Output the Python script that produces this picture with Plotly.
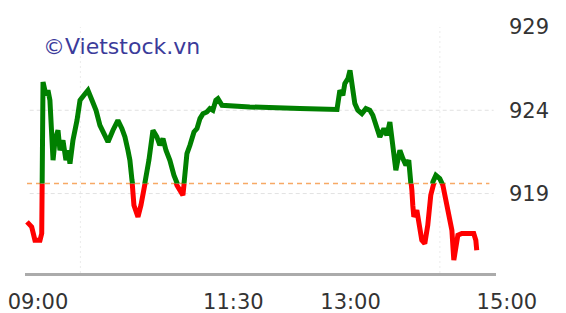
import plotly.graph_objects as go

DAY = "2024-01-02 "

times = [
    "09:00:00", "09:03:36", "09:06:06", "09:10:00", "09:11:18", "09:12:18", "09:14:36", "09:16:06",
    "09:17:36", "09:19:12", "09:20:00", "09:21:30", "09:23:48", "09:25:18", "09:27:36", "09:29:54",
    "09:31:30", "09:33:00", "09:35:18", "09:38:24", "09:40:42", "09:43:42", "09:46:48", "09:49:54",
    "09:53:00", "09:56:00", "09:59:54", "10:02:12", "10:06:00", "10:09:48", "10:12:54", "10:15:12",
    "10:17:30", "10:19:00", "10:20:36", "10:22:06", "10:25:12", "10:27:30", "10:30:36", "10:33:36",
    "10:36:42", "10:39:42", "10:42:00", "10:44:24", "10:46:42", "10:49:42", "10:52:48", "10:55:06",
    "10:57:24", "10:59:42", "11:01:18", "11:02:48", "11:05:06", "11:08:12", "11:10:30", "11:12:48",
    "11:15:06", "11:18:06", "11:20:24", "11:22:42", "11:25:00", "11:26:36", "11:29:42", "11:51:00",
    "12:29:30", "12:58:00", "13:00:12", "13:02:30", "13:04:00", "13:06:24", "13:08:00", "13:09:30",
    "13:11:00", "13:11:42", "13:14:00", "13:17:06", "13:20:12", "13:23:12", "13:25:30", "13:27:48",
    "13:30:54", "13:34:00", "13:36:18", "13:38:36", "13:40:54", "13:43:12", "13:44:42", "13:46:18",
    "13:48:36", "13:50:54", "13:53:06", "13:54:42", "13:55:30", "13:56:12", "13:57:00", "13:59:18",
    "14:01:36", "14:03:06", "14:05:24", "14:07:42", "14:10:00", "14:11:36", "14:13:54", "14:16:54",
    "14:19:18", "14:21:36", "14:23:54", "14:26:12", "14:27:42", "14:29:12", "14:30:48", "14:33:48",
    "14:38:24", "14:43:00", "14:44:36", "14:45:18",
]

index_values = [
    917.3, 917.0, 916.2, 916.2, 916.6, 925.7, 924.9, 925.2,
    924.6, 922.8, 921.0, 922.2, 922.8, 921.6, 922.2, 921.0,
    921.6, 920.8, 922.2, 923.4, 924.6, 924.9, 925.2, 924.6,
    924.0, 923.1, 922.4, 922.1, 922.8, 923.4, 922.9, 922.4,
    921.6, 921.0, 919.8, 918.3, 917.6, 918.3, 919.6, 921.0,
    922.8, 922.4, 921.9, 922.3, 921.6, 921.0, 920.1, 919.5,
    919.2, 918.9, 920.1, 921.4, 921.9, 922.7, 922.9, 923.5,
    923.8, 923.9, 924.1, 924.0, 924.6, 924.7, 924.3, 924.2,
    924.1, 924.05, 925.2, 924.9, 925.6, 925.9, 926.4, 925.5,
    924.9, 924.4, 924.0, 923.8, 924.1, 924.0, 923.7, 923.1,
    922.4, 922.9, 922.5, 923.3, 922.0, 920.4, 921.0, 921.6,
    921.1, 920.7, 921.0, 920.1, 919.2, 918.3, 917.6, 918.0,
    917.1, 916.2, 916.0, 917.1, 918.9, 919.7, 920.1, 919.9,
    919.5, 918.6, 917.7, 916.8, 915.0, 915.6, 916.5, 916.6,
    916.6, 916.6, 916.2, 915.6,
]

ref_value = 919.6
ref_span = ["09:00:00", "14:55:00"]
y_ticks = [919, 924, 929]
grid_levels = [919, 924]
x_tick_times = ["09:00", "11:30", "13:00", "15:00"]
x_tick_labels = ["09:00", "11:30", "13:00", "15:00"]
vgrid_times = ["09:41", "14:17"]
x_window = ["08:58:28", "15:00:05"]
y_window = [914.23, 929.0]

UP_COLOR = "#008000"
DOWN_COLOR = "#ff0000"
FONT = "DejaVu Sans"

x_vals = [DAY + t for t in times]
split = (ref_value - y_window[0]) / (y_window[1] - y_window[0])

fig = go.Figure()

# reference (previous close) line on the main axes
fig.add_trace(go.Scatter(
    x=[DAY + t for t in ref_span], y=[ref_value, ref_value], mode="lines",
    line=dict(color="#f7a965", width=1.5, dash="5px,4px"),
    xaxis="x", yaxis="y", hoverinfo="skip", showlegend=False,
))
# below-reference part (clipped by y2 domain)
fig.add_trace(go.Scatter(
    x=x_vals, y=index_values, mode="lines",
    line=dict(color=DOWN_COLOR, width=5), xaxis="x", yaxis="y2", showlegend=False,
))
# above-reference part (clipped by y3 domain)
fig.add_trace(go.Scatter(
    x=x_vals, y=index_values, mode="lines",
    line=dict(color=UP_COLOR, width=5), xaxis="x", yaxis="y3", showlegend=False,
))

shapes = []
for lv in grid_levels:
    shapes.append(dict(type="line", xref="paper", x0=0.01, x1=0.995, yref="y", y0=lv, y1=lv,
                       line=dict(color="#e2e2e2", width=1, dash="4px,3px"), layer="below"))
for t in vgrid_times:
    shapes.append(dict(type="line", xref="x", x0=DAY + t, x1=DAY + t, yref="paper", y0=0, y1=1,
                       line=dict(color="#ebebeb", width=1, dash="2px,3px"), layer="below"))

fig.update_layout(
    width=566, height=313,
    margin=dict(l=25, r=70, t=27, b=40, autoexpand=False),
    paper_bgcolor="white", plot_bgcolor="rgba(0,0,0,0)",
    showlegend=False,
    font=dict(family=FONT, size=21, color="#333333"),
    xaxis=dict(
        type="date", domain=[0, 1], anchor="y", automargin=False,
        range=[DAY + x_window[0], DAY + x_window[1]],
        showline=True, linecolor="#ababab", linewidth=3,
        showgrid=False, zeroline=False, ticks="",
        tickmode="array", tickvals=[DAY + t for t in x_tick_times], ticktext=x_tick_labels,
        tickfont=dict(family=FONT, size=21, color="#333333"),
        ticklabelshift=11, ticklabelstandoff=8,
    ),
    yaxis=dict(
        domain=[0, 1], anchor="x", side="right", range=y_window, automargin=False,
        showgrid=False, zeroline=False, showline=False, ticks="",
        tickmode="array", tickvals=y_ticks,
        tickfont=dict(family=FONT, size=21, color="#333333"),
        ticklabelstandoff=12,
    ),
    yaxis2=dict(domain=[0, split], anchor="x", range=[y_window[0], ref_value], visible=False,
                automargin=False),
    yaxis3=dict(domain=[split, 1], anchor="x", range=[ref_value, y_window[1]], visible=False,
                automargin=False),
    shapes=shapes,
    annotations=[dict(
        text="©Vietstock.vn", xref="paper", yref="paper", x=0.035, y=0.92,
        xanchor="left", yanchor="middle", showarrow=False,
        font=dict(family=FONT, size=22, color="#3b3b9a"),
    )],
)

fig.write_html("out.html", config={"displayModeBar": False},
               post_script="document.body.style.margin='0';")
